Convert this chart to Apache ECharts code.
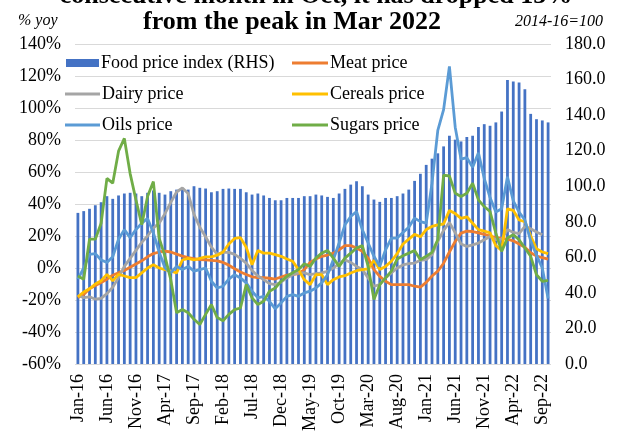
<!DOCTYPE html>
<html>
<head>
<meta charset="utf-8">
<script src="https://cdn.jsdelivr.net/npm/echarts@6/dist/echarts.min.js"></script>
<style>
  html, body { margin: 0; padding: 0; background: #fff; }
  #chart { width: 617px; height: 434px; }
</style>
</head>
<body>
<div id="chart"></div>
<script>
// month labels Jan-16 .. Oct-22
var monthNames = ['Jan', 'Feb', 'Mar', 'Apr', 'May', 'Jun', 'Jul', 'Aug', 'Sep', 'Oct', 'Nov', 'Dec'];
var years = ['16', '17', '18', '19', '20', '21', '22'];
var categories = [];
years.forEach(function (y) {
  monthNames.forEach(function (m) { categories.push(m + '-' + y); });
});
categories = categories.slice(0, 82);

// FAO food price index, 2014-16=100 (RHS)
var foodIndex = [
  85.0, 86.0, 87.3, 89.3, 91.0, 94.4, 92.9, 94.8, 95.9, 96.3, 95.9, 94.4,
  96.3, 97.6, 96.3, 95.3, 97.2, 98.1, 98.7, 98.1, 100.0, 99.1, 98.7, 96.6,
  97.2, 98.5, 98.7, 98.5, 98.5, 96.6, 95.3, 95.9, 94.8, 93.4, 92.1, 92.1,
  93.4, 93.4, 93.4, 94.4, 94.4, 95.3, 94.8, 94.0, 93.4, 95.9, 98.5, 100.9,
  102.8, 100.0, 95.3, 92.5, 91.2, 93.4, 93.4, 94.4, 95.9, 98.1, 103.0, 107.0,
  112.0, 115.5, 118.5, 122.4, 128.4, 126.2, 125.2, 127.7, 128.4, 133.3, 134.9, 134.0,
  135.9, 142.0, 159.8, 158.9, 158.3, 154.6, 140.7, 137.7, 137.0, 135.9
];

// % yoy
var meat = [
  -18.5, -16.5, -13, -11, -9, -7, -4.5, -3, -1.5, 0.5, 2.5, 4.5,
  7, 9, 10, 10.5, 10, 8.7, 7.4, 6.5, 5.9, 5.3, 5.1, 4.8,
  4.5, 3.5, 1.8, -0.5, -2.5, -4.1, -5.5, -6, -6, -6.4, -6.9, -5.6,
  -4.4, -4.2, -3.5, -1, 3.5, 5.6, 7.3, 8.1, 9.3, 11.4, 14, 14,
  12.5, 10.4, 6.2, -1, -5.2, -8.3, -10.4, -10.4, -10.4, -10.4, -11.4, -12,
  -9, -5, -2, 3, 10, 16.6, 21.8, 23, 22.8, 22, 21, 20,
  19, 18.5, 18, 17, 15, 13, 9.5, 7.5, 6.5, 5.5
];
var dairy = [
  -17, -18.5, -18, -19.5, -19, -16, -12, -6, 1, 6, 11, 16,
  20, 25, 28, 34, 41, 47.5, 50, 46.5, 33.5, 25.5, 19.5, 13,
  8.5, 9.8, 9.8, 8.5, 6, 3, -1.5, -5, -7.3, -9.8, -10.4, -8.9,
  -6.2, -4.2, -3.1, -3.1, -4.2, -3.5, -3.1, -2.1, 0, 2.7, 5.2, 3.5,
  1, -1, -6.2, -11.4, -10.4, -6.2, -3.1, 0, 1.9, 2.7, 3.1, 4.8,
  5.2, 8.3, 16.6, 23.5, 28.5, 22, 15, 13.5, 14.5, 15.6, 17.7, 19.7,
  17.7, 18, 24, 22.2, 21.5, 26, 24.5, 22.5, 20.8, null
];
var cereals = [
  -18, -15, -13, -10, -8, -4, -8, -4, -5, -6, -6, -3,
  0, 2, 0, -1, -2, -3, 5, 6, 5, 6, 7, 7,
  8, 10, 15, 18.5, 19, 13, 2, 11, 9.3, 9.3, 8.3, 7.3,
  5.6, 4.2, -1, -7.3, -10.4, -4.2, -4.2, -10.4, -7.3, -5.6, -4.8, -3.1,
  -1.7, -1, -0.6, 4.8, -1, 1, 4.2, 9, 15, 18, 21, 19.5,
  24, 26, 27, 27.5, 36, 34, 31, 32, 28, 24, 23, 22,
  14, 11, 37, 36, 30, 29, 20, 12, 10, 9
];
var oils = [
  -7, 0, 8.5, 9, 5, 3.5, 7, 18, 24, 19, 24, 28,
  31, 22, 10, 0, -3, 1, -1, 1, -2, -1, 0, -8.3,
  -12.5, -11.4, -6.9, -4.2, -6.2, -9.3, -14.5, -18.7, -17.7, -20.8, -25.5, -21.8,
  -17.7, -16.6, -17.7, -15.6, -14.5, -12.5, -9.3, -4.2, 5.2, 15.6, 27, 32.2,
  35.3, 23.9, 15.6, 7.3, 1, 11.4, 18.7, 18.7, 22.2, 25.5, 31.2, 29,
  28, 53, 86, 99, 126, 88, 68, 69, 63, 72, 56, 44,
  35, 37, 57, 42, 35, 30, 17, 8, 0, -19
];
var sugars = [
  -5, -7, 18, 18, 28, 56, 53, 73, 81, 59, 42.6, 27,
  44.7, 54, 18.7, 7.3, -7.3, -28, -26, -28, -32, -35.3, -29, -22.8,
  -31, -33, -29, -26, -25, -10.4, -18.7, -22.8, -20.8, -14.5, -12.5, -8.3,
  -5.2, -3, -1, 2.7, 1, 6.2, 9.3, 11, 6.2, 1, 6.2, 9.3,
  12.5, 14, 1, -19.7, -10.4, -6.2, -2, 5.6, 7.7, 9.3, 11, 5.2,
  7.3, 9.8, 17.7, 58, 57.5, 46.7, 44.7, 46.7, 53, 42.6, 38.4, 35.3,
  21.8, 10.4, 18.7, 20.8, 17.7, 12.5, 7.3, -4.2, -8.3, -7.7
];

var leftTicks = [-60, 140, 20];   // min, max, step (%)
var rightTicks = [0, 180, 20];    // min, max, step (index)

var serif = '"Liberation Serif", "DejaVu Serif", serif';
var legendText = { fontFamily: serif, fontSize: 18, color: '#000', lineHeight: 20, padding: [0, 0, 0, -3] };

function lineSeries(name, data, color) {
  return {
    name: name,
    type: 'line',
    yAxisIndex: 0,
    data: data,
    symbol: 'none',
    lineStyle: { color: color, width: 2.8 },
    itemStyle: { color: color }
  };
}

var chart = echarts.init(document.getElementById('chart'));

chart.setOption({
  animation: false,
  backgroundColor: '#fff',
  graphic: [
    // title, first line is cut off at the top edge as in the source
    { type: 'text', x: 316, y: -4, style: { text: 'consecutive month in Oct, it has dropped 13%', font: 'bold 26px ' + serif, fill: '#000', align: 'center', verticalAlign: 'middle' } },
    { type: 'text', x: 292, y: 22, style: { text: 'from the peak in Mar 2022', font: 'bold 26px ' + serif, fill: '#000', align: 'center', verticalAlign: 'middle' } },
    { type: 'text', left: 18, top: 13, style: { text: '% yoy', font: 'italic 16px ' + serif, fill: '#000' } },
    { type: 'text', right: 14, top: 14, style: { text: '2014-16=100', font: 'italic 16px ' + serif, fill: '#000' } }
  ],
  legend: [
    {
      data: ['Food price index (RHS)'],
      icon: 'rect',
      left: 66, top: 53, padding: 0,
      itemWidth: 33, itemHeight: 8,
      textStyle: legendText
    },
    {
      data: ['Dairy price', 'Oils price'],
      icon: 'rect',
      orient: 'vertical',
      left: 65, top: 84, padding: 0,
      itemWidth: 35, itemHeight: 3, itemGap: 11,
      textStyle: legendText
    },
    {
      data: ['Meat price', 'Cereals price', 'Sugars price'],
      icon: 'rect',
      orient: 'vertical',
      left: 292, top: 53, padding: 0,
      itemWidth: 36, itemHeight: 3, itemGap: 11,
      textStyle: legendText
    }
  ],
  grid: { left: 75, right: 66, top: 44, bottom: 70 },
  xAxis: {
    type: 'category',
    data: categories,
    boundaryGap: true,
    axisLine: { show: false },
    axisTick: { show: false },
    axisLabel: {
      interval: 4,
      rotate: 90,
      margin: 10,
      fontFamily: serif,
      fontSize: 18,
      color: '#000'
    }
  },
  yAxis: [
    {
      type: 'value',
      min: leftTicks[0], max: leftTicks[1], interval: leftTicks[2],
      axisLine: { show: false },
      axisTick: { show: false },
      splitLine: { lineStyle: { color: '#d9d9d9', width: 1 } },
      axisLabel: {
        formatter: '{value}%',
        margin: 14,
        fontFamily: serif, fontSize: 18, color: '#000'
      }
    },
    {
      type: 'value',
      min: rightTicks[0], max: rightTicks[1], interval: rightTicks[2],
      position: 'right',
      axisLine: { show: false },
      axisTick: { show: false },
      splitLine: { show: false },
      axisLabel: {
        formatter: function (v) { return v.toFixed(1); },
        margin: 14,
        fontFamily: serif, fontSize: 18, color: '#000'
      }
    }
  ],
  series: [
    {
      name: 'Food price index (RHS)',
      type: 'bar',
      yAxisIndex: 1,
      data: foodIndex,
      barWidth: '48%',
      itemStyle: { color: '#4472c4' }
    },
    lineSeries('Meat price', meat, '#ed7d31'),
    lineSeries('Dairy price', dairy, '#a5a5a5'),
    lineSeries('Cereals price', cereals, '#ffc000'),
    lineSeries('Oils price', oils, '#5b9bd5'),
    lineSeries('Sugars price', sugars, '#70ad47')
  ]
});
</script>
</body>
</html>
